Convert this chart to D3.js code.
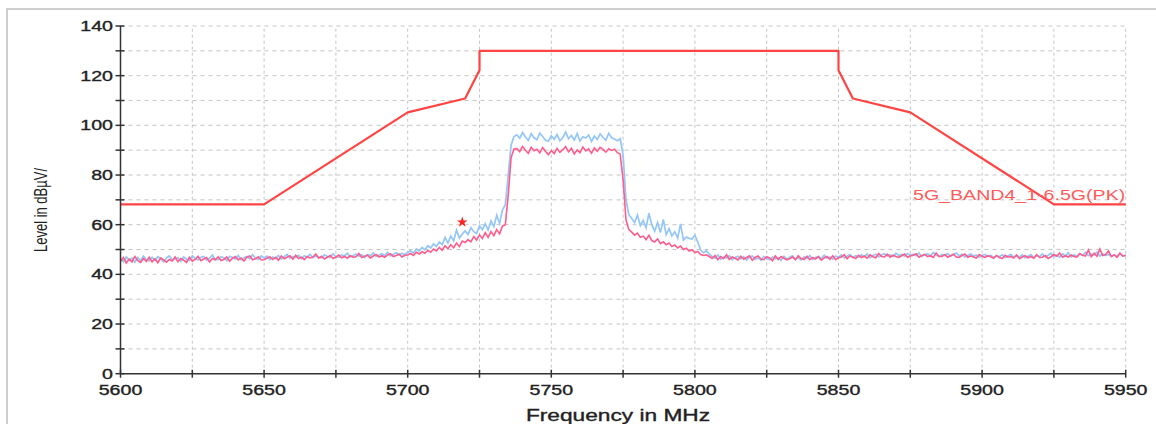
<!DOCTYPE html>
<html>
<head>
<meta charset="utf-8">
<script src="https://cdn.jsdelivr.net/npm/d3@7"></script>
<style>
  html, body { margin: 0; padding: 0; background: #fff; }
  svg { display: block; }
  text { font-family: "Liberation Sans", Arial, Helvetica, sans-serif; }
</style>
</head>
<body>
<svg id="chart" width="1156" height="424"></svg>
<script>
// measured traces, 1 MHz step from 5600 to 5950
let startFreq = 5600;
let blueTrace = [
  46.2,45.1,47.0,45.8,46.5,44.9,46.8,45.5,47.3,46.0,
  45.4,46.9,45.7,47.1,46.3,45.0,46.6,47.4,45.9,46.2,
  46.8,45.3,47.0,46.1,45.6,47.5,46.4,45.8,46.9,47.2,
  45.7,46.5,47.8,46.0,45.9,47.1,46.6,45.5,47.3,46.8,
  46.1,47.6,45.9,46.7,47.2,46.3,47.9,46.5,46.0,47.4,
  46.6,47.3,45.9,47.0,46.4,47.6,46.2,47.1,48.0,46.5,
  47.2,46.8,47.7,46.3,47.5,46.9,48.1,46.7,47.4,47.0,
  46.6,47.9,47.2,46.8,48.3,47.1,46.9,47.8,47.4,48.5,
  47.0,47.6,48.2,47.3,47.9,46.8,48.0,47.5,48.6,47.2,
  47.8,48.3,47.6,48.9,47.4,48.1,48.7,47.9,48.4,48.0,
  48.8,49.5,48.6,50.2,49.4,50.8,49.9,51.5,50.6,52.3,
  51.2,53.0,52.0,54.8,52.6,55.5,53.4,57.8,54.6,56.2,
  57.5,56.0,58.8,57.2,56.5,59.6,58.0,60.4,57.8,61.5,
  59.2,63.8,60.5,66.0,
  68.0,80.0,92.0,95.5,
  96.2,94.8,97.1,95.3,93.9,96.6,95.0,94.2,96.9,95.5,
  94.0,93.6,95.8,94.4,96.3,93.8,95.1,97.3,94.6,95.9,
  94.1,96.7,93.7,95.4,94.9,96.1,93.5,95.7,94.3,96.5,
  95.2,94.0,96.8,95.0,94.5,93.8,94.6,
  88.0,70.0,64.0,
  62.5,60.8,63.9,59.6,61.7,58.8,64.6,59.9,57.4,60.9,
  56.8,62.1,56.0,58.4,55.5,57.2,54.6,60.3,53.8,55.0,
  54.5,54.2,55.8,53.0,49.8,48.7,49.5,48.1,
  47.2,46.5,47.8,46.1,47.0,46.6,47.5,45.9,46.8,47.3,
  46.2,47.1,45.8,46.9,47.4,46.0,46.7,45.7,47.2,46.4,
  45.9,47.0,46.3,46.8,45.6,47.3,46.1,46.9,47.5,46.2,
  46.7,45.8,47.1,46.4,47.6,46.0,46.8,47.2,46.3,47.7,
  46.5,47.0,46.1,47.4,46.9,47.8,46.6,47.3,48.0,46.8,
  47.5,46.9,47.9,47.2,48.2,46.7,47.6,48.1,47.0,47.8,
  48.3,47.4,47.9,47.1,48.5,47.6,48.0,47.3,48.4,47.7,
  48.1,47.5,48.6,47.2,47.9,48.3,47.4,48.8,47.8,47.1,
  48.0,47.6,48.4,47.3,47.9,48.6,47.5,48.1,47.0,47.7,
  48.2,47.4,47.8,46.9,47.6,48.0,47.2,47.7,46.8,47.5,
  47.1,47.9,46.7,47.4,48.1,46.9,47.6,47.0,47.8,46.6,
  47.3,48.0,46.8,47.5,47.1,48.2,46.9,47.7,48.5,47.2,
  47.8,46.9,48.3,47.4,48.7,47.0,47.9,47.3,48.4,47.6,
  48.9,47.5,48.1,47.8,49.0,47.4,48.2,47.6,48.0,47.3,
  47.9,47.1,48.3,47.5,47.8
];
let pinkTrace = [
  45.3,46.8,44.6,46.1,45.0,47.2,45.6,44.8,46.4,45.2,
  46.9,45.0,46.3,44.7,46.6,45.8,44.9,46.0,45.4,47.0,
  45.1,46.4,45.7,44.8,46.9,45.3,46.0,47.3,45.5,46.2,
  46.8,45.0,46.4,45.9,47.1,45.6,46.0,47.0,45.3,46.5,
  47.2,45.8,46.6,45.4,46.9,47.4,45.9,46.3,47.1,45.8,
  45.9,46.5,47.1,46.0,46.8,45.7,47.4,46.3,46.9,47.5,
  46.1,47.7,46.4,46.9,45.9,47.2,46.6,47.0,48.2,46.5,
  47.3,46.2,46.9,47.6,46.4,47.0,47.8,46.7,47.2,46.5,
  47.5,46.9,47.1,48.4,46.8,47.3,47.7,46.6,47.4,48.0,
  47.0,47.5,46.9,47.8,48.3,47.2,47.6,48.1,47.0,47.7,
  47.8,48.4,47.6,48.9,48.2,49.1,48.5,49.6,48.9,50.2,
  49.4,50.8,49.7,51.5,50.3,51.9,50.7,52.6,51.2,53.4,
  52.8,54.0,53.1,55.2,53.8,55.9,54.4,56.8,54.9,57.2,
  55.6,58.0,56.3,59.5,
  60.0,72.0,87.0,90.5,
  90.6,89.4,91.5,90.0,88.7,91.2,89.8,90.4,88.9,91.0,
  89.5,88.2,89.9,88.6,90.7,89.1,90.2,91.4,89.3,90.8,
  88.5,90.1,89.0,91.3,89.7,90.5,88.8,90.9,89.6,91.1,
  90.3,89.2,90.6,89.9,90.4,89.0,88.4,
  78.0,62.0,58.0,
  57.0,55.8,56.6,54.9,55.4,54.0,55.7,53.6,53.0,54.3,
  52.4,53.1,51.9,52.6,51.2,51.8,50.6,51.4,50.0,50.5,
  49.4,49.9,48.8,49.2,48.0,47.6,47.9,47.2,
  46.4,47.6,45.9,47.2,46.3,47.9,46.0,47.0,46.5,45.8,
  47.3,46.1,46.8,47.5,45.7,46.9,47.4,46.2,45.9,47.1,
  46.6,45.5,47.4,46.0,47.2,46.5,45.8,46.3,47.0,45.9,
  47.5,46.4,46.0,47.3,45.9,46.8,46.2,47.1,45.7,46.6,
  47.2,46.1,47.5,45.9,46.7,47.0,47.9,46.3,47.4,46.9,
  46.4,47.7,46.8,47.3,46.5,47.9,47.1,46.7,48.4,47.2,
  47.0,48.1,46.9,47.7,47.2,46.8,47.5,48.2,46.9,47.4,
  47.7,48.3,46.9,47.6,48.0,47.1,47.5,46.8,48.6,47.3,
  47.2,48.0,46.9,47.5,48.1,47.0,46.8,47.6,48.2,46.9,
  47.4,47.0,46.6,48.0,47.3,46.8,47.5,47.1,46.5,47.6,
  46.8,46.4,47.7,46.9,47.2,46.6,47.8,46.3,47.0,47.5,
  46.7,47.2,46.5,47.9,46.8,46.9,47.6,46.4,47.1,48.0,
  47.3,48.6,46.9,47.5,47.0,47.8,47.2,46.9,48.3,47.7,
  47.4,49.8,47.1,48.5,47.3,50.2,47.6,48.0,49.4,47.2,
  47.8,46.9,48.6,47.3,47.6
];

// limit line 5G_BAND4_1-6.5G(PK)
let limitFreq  = [5600, 5650, 5700,  5720,  5725,  5725, 5850, 5850,  5855,  5875, 5925, 5950];
let limitLevel = [68.2, 68.2, 105.2, 110.8, 122.2, 130,  130,  122.2, 110.8, 105.2, 68.2, 68.2];
let limitName = '5G_BAND4_1-6.5G(PK)';

// peak marker
let peakFreq = [5719];
let peakLevel = [61];

let xTicks = [5600, 5650, 5700, 5750, 5800, 5850, 5900, 5950];
let xMinor = d3.range(5600, 5951, 25);
let yTicks = [0, 20, 40, 60, 80, 100, 120, 140];
let yMinor = d3.range(0, 141, 10);

let svg = d3.select('#chart');
let stretch = 1.4; // text in the original is stretched wide

let x = d3.scaleLinear().domain([5600, 5950]).range([120.5, 1125.7]);
let y = d3.scaleLinear().domain([0, 140]).range([373.7, 26]);

// outer frame
svg.append('path')
    .attr('d', 'M7,424 L7,9 L1156,9')
    .attr('fill', 'none').attr('stroke', '#cfcfcf').attr('stroke-width', 2);

// grid
let grid = svg.append('g');
grid.selectAll('line.h').data(yMinor.filter(d => d > 0)).enter().append('line')
    .attr('x1', x(5600)).attr('x2', x(5950))
    .attr('y1', d => y(d)).attr('y2', d => y(d))
    .attr('stroke', '#c4c4c4').attr('stroke-width', 1).attr('stroke-dasharray', '4,4');
grid.selectAll('line.v').data(xMinor.filter(d => d > 5600)).enter().append('line')
    .attr('x1', d => x(d)).attr('x2', d => x(d))
    .attr('y1', y(0)).attr('y2', y(140))
    .attr('stroke', '#c4c4c4').attr('stroke-width', 1).attr('stroke-dasharray', '3,3');

// traces
let line = d3.line()
    .x((d, i) => x(startFreq + i))
    .y(d => y(d));
svg.append('path').datum(blueTrace)
    .attr('d', line).attr('fill', 'none')
    .attr('stroke', '#94c6f7').attr('stroke-width', 1.7);
svg.append('path').datum(pinkTrace)
    .attr('d', line).attr('fill', 'none')
    .attr('stroke', '#ff5c8c').attr('stroke-width', 1.6);

// limit
let limitLine = d3.line()
    .x((d, i) => x(limitFreq[i]))
    .y(d => y(d));
svg.append('path').datum(limitLevel)
    .attr('d', limitLine).attr('fill', 'none')
    .attr('stroke', '#ff4444').attr('stroke-width', 2.2).attr('stroke-linejoin', 'round');

svg.append('text')
    .attr('transform', 'translate(913,200) scale(' + stretch + ',1)')
    .attr('font-size', 14).attr('fill', '#ff5a5a')
    .text(limitName);

// peak star
svg.selectAll('path.peak').data(peakFreq).enter().append('path')
    .attr('d', d3.symbol().type(d3.symbolStar).size(36))
    .attr('transform', (d, i) => 'translate(' + x(d) + ',' + y(peakLevel[i]) + ')')
    .attr('fill', '#ff2020');

// axes
let axis = svg.append('g').attr('stroke', '#333').attr('stroke-width', 1.5);
axis.append('line').attr('x1', x(5600)).attr('x2', x(5600)).attr('y1', y(0)).attr('y2', y(140));
axis.append('line').attr('x1', x(5600)).attr('x2', x(5950)).attr('y1', y(0)).attr('y2', y(0));
axis.selectAll('line.yt').data(yMinor).enter().append('line')
    .attr('x1', x(5600) - 5).attr('x2', x(5600) + 4)
    .attr('y1', d => y(d)).attr('y2', d => y(d));
axis.selectAll('line.xt').data(xMinor).enter().append('line')
    .attr('x1', d => x(d)).attr('x2', d => x(d))
    .attr('y1', y(0) - 4).attr('y2', y(0) + 4);

svg.selectAll('text.yl').data(yTicks).enter().append('text')
    .attr('transform', d => 'translate(113,' + (y(d) + 5) + ') scale(' + stretch + ',1)')
    .attr('text-anchor', 'end').attr('font-size', 14).attr('fill', '#222')
    .attr('stroke', '#222').attr('stroke-width', 0.35)
    .text(d => d);
svg.selectAll('text.xl').data(xTicks).enter().append('text')
    .attr('transform', d => 'translate(' + x(d) + ',395) scale(' + stretch + ',1)')
    .attr('text-anchor', 'middle').attr('font-size', 14).attr('fill', '#222')
    .attr('stroke', '#222').attr('stroke-width', 0.35)
    .text(d => d);

svg.append('text')
    .attr('transform', 'translate(618,421) scale(1.42,1)')
    .attr('text-anchor', 'middle').attr('font-size', 16).attr('fill', '#222')
    .attr('stroke', '#222').attr('stroke-width', 0.35)
    .text('Frequency in MHz');
svg.append('text')
    .attr('transform', 'translate(47,210) scale(' + stretch + ',1) rotate(-90)')
    .attr('text-anchor', 'middle').attr('font-size', 13).attr('fill', '#222')
    .text('Level in dBµV/');
</script>
</body>
</html>
